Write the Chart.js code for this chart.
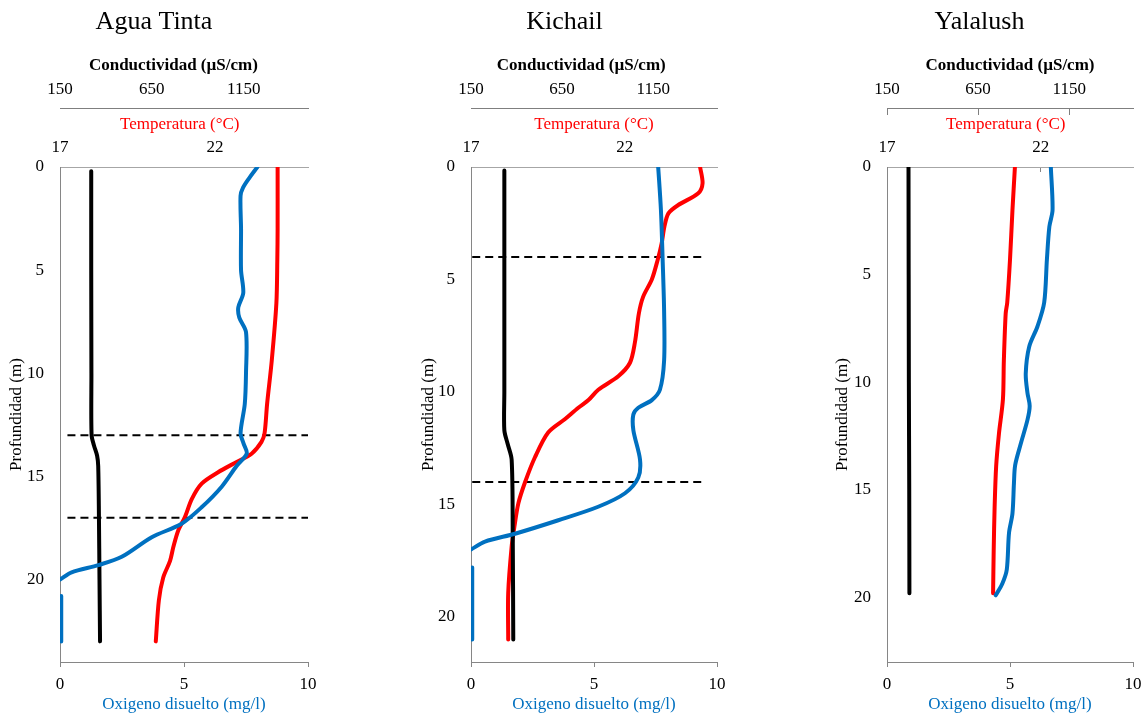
<!DOCTYPE html>
<html lang="es">
<head>
<meta charset="utf-8">
<title>Perfiles</title>
<script src="https://cdn.jsdelivr.net/npm/chart.js@4.4.1/dist/chart.umd.min.js"></script>
<style>
  html, body { margin: 0; padding: 0; background: #fff; overflow: hidden; }
  body { position: relative; width: 1147px; height: 715px; }
  canvas { position: absolute; top: 0; }
</style>
</head>
<body>
<canvas id="aguaTintaChart" width="318" height="715" style="left:0px"></canvas>
<canvas id="kichailChart" width="352" height="715" style="left:412px"></canvas>
<canvas id="yalalushChart" width="327" height="715" style="left:826px"></canvas>
<script>
// marcas de los ejes
const oxigenoTicks = [0, 5, 10];
const tempTicks = [17, 22];
const condTicks = [150, 650, 1150];
const profTicks = [0, 5, 10, 15, 20];

// Agua Tinta
const aguaO2Prof = [0, 0.5, 1.0, 1.4, 3, 5, 6.1, 6.8, 7.3, 8.0, 10, 11.5, 12.9, 13.4, 13.9, 14.5, 15.5, 16.5, 17.3, 17.95, 18.9, 19.3, 19.65, 20.0, 20.4, 20.8, 23];
const aguaO2 = [7.96, 7.65, 7.38, 7.28, 7.3, 7.3, 7.39, 7.19, 7.23, 7.5, 7.5, 7.45, 7.28, 7.4, 7.53, 7.12, 6.52, 5.71, 4.9, 3.7, 2.49, 1.55, 0.47, 0.0, null, 0.05, 0.05];
const aguaTempProf = [0, 3, 4.5, 6.6, 9.4, 11.5, 12.9, 13.33, 13.9, 14.3, 14.8, 15.35, 16.1, 16.97, 17.6, 18.4, 19.1, 19.9, 21.0, 23];
const aguaTemp = [24.02, 24.02, 24.01, 23.98, 23.83, 23.68, 23.6, 23.5, 23.18, 22.7, 22.1, 21.57, 21.25, 21.03, 20.82, 20.66, 20.55, 20.33, 20.19, 20.09];
const aguaCondProf = [0.2, 5, 10, 13, 13.5, 14, 14.5, 17, 20, 23];
const aguaCond = [320, 320, 321, 322, 335, 352, 358, 362, 365, 368];
const aguaLimites = [13, 17];
const aguaLimiteX = [0.3, 10];

// Kichail
const kichailO2Prof = [0, 1.9, 4.1, 6.4, 8.6, 9.9, 10.36, 10.7, 11.0, 11.7, 13.0, 13.8, 14.5, 15.1, 15.7, 16.3, 16.65, 17.0, 17.4, 17.8, 21.0];
const kichailO2 = [7.61, 7.72, 7.79, 7.85, 7.85, 7.68, 7.35, 6.8, 6.6, 6.6, 6.87, 6.8, 6.26, 5.17, 3.55, 1.79, 0.57, 0.0, null, 0.05, 0.05];
const kichailTempProf = [0, 0.73, 1.17, 1.69, 2.06, 2.65, 3.39, 4.13, 5.0, 5.76, 6.5, 7.8, 8.7, 9.3, 9.9, 10.36, 10.7, 11.2, 11.8, 12.9, 14.0, 14.95, 16.0, 16.9, 18.95, 21.0];
const kichailTemp = [24.45, 24.53, 24.39, 23.74, 23.42, 23.29, 23.2, 23.07, 22.88, 22.6, 22.46, 22.33, 22.17, 21.79, 21.14, 20.82, 20.49, 20.06, 19.51, 19.08, 18.76, 18.54, 18.41, 18.32, 18.21, 18.21];
const kichailCondProf = [0.15, 5, 10, 11.7, 12.3, 13.0, 16.3, 21];
const kichailCond = [333, 333, 333, 333, 351, 373, 379, 382];
const kichailLimites = [4, 14];
const kichailLimiteX = [0.05, 9.4];

// Yalalush
const yalalushO2Prof = [0, 2.0, 2.77, 4.3, 6.3, 7.4, 8.35, 9.6, 10.5, 11.1, 11.75, 12.85, 13.85, 14.7, 16.1, 17.0, 18.7, 19.35, 19.9];
const yalalushO2 = [6.66, 6.73, 6.6, 6.5, 6.39, 6.12, 5.78, 5.64, 5.71, 5.8, 5.71, 5.44, 5.21, 5.16, 5.1, 4.96, 4.87, 4.69, 4.42];
const yalalushTempProf = [0, 2.0, 4.3, 6.3, 6.8, 9.0, 10.8, 12.4, 13.9, 15.8, 17.8, 19.8];
const yalalushTemp = [21.16, 21.08, 21.0, 20.91, 20.86, 20.8, 20.77, 20.64, 20.55, 20.5, 20.47, 20.45];
const yalalushCondProf = [0, 10, 15, 19.8];
const yalalushCond = [268, 270, 272, 273];

const azul = '#0070C0';
const rojo = '#FF0000';
const ejeColor = '#868686';
Chart.defaults.font.family = "'Liberation Serif', 'Times New Roman', serif";

function puntos(valores, profundidades) {
    return valores.map((v, i) => ({ x: v, y: profundidades[i] }));
}

function serie(datos, color, eje) {
    return {
        data: datos,
        xAxisID: eje,
        yAxisID: 'y',
        showLine: true,
        borderColor: color,
        borderWidth: 4,
        pointRadius: 0,
        tension: 0.3,
        borderCapStyle: 'round',
        borderJoinStyle: 'round',
        fill: false
    };
}

function limite(prof, rango) {
    return {
        data: rango.map(x => ({ x: x, y: prof })),
        xAxisID: 'x',
        yAxisID: 'y',
        showLine: true,
        borderColor: '#000',
        borderWidth: 2,
        borderDash: [8, 5],
        pointRadius: 0
    };
}

function fijarTicks(lista) {
    return scale => { scale.ticks = lista.map(v => ({ value: v })); };
}

// altura fija del eje, sin el margen lateral que Chart.js añade para las etiquetas
function alturaEje(h) {
    return scale => {
        scale.height = h;
        scale.paddingLeft = 0;
        scale.paddingRight = 0;
    };
}

// espacios al final para correr el título un poco a la izquierda, como en el original
function corrido(texto, n) {
    return texto + '\u00a0'.repeat(n || 0);
}

const fuente = { size: 17 };

function crearPerfil(canvasId, p) {
    // orden: el primero se dibuja encima
    const datasets = [
        serie(puntos(p.o2, p.o2Prof), azul, 'x'),
        serie(puntos(p.cond, p.condProf), '#000', 'xc'),
        serie(puntos(p.temp, p.tempProf), rojo, 'xt')
    ];
    (p.limites || []).forEach(d => datasets.push(limite(d, p.limiteX)));

    // en Yalalush los ejes superiores tienen marcas hacia adentro
    const marca = p.marcas ? 7 : 0;

    new Chart(document.getElementById(canvasId), {
        type: 'scatter',
        data: { datasets },
        options: {
            responsive: false,
            animation: false,
            layout: { padding: { left: 0, right: p.padRight, top: 0, bottom: 0 } },
            plugins: {
                legend: { display: false },
                tooltip: { enabled: false },
                title: {
                    display: true,
                    text: p.titulo,
                    color: '#000',
                    font: { size: 26, weight: 'normal' },
                    padding: { top: 6.5, bottom: 6.3 }
                }
            },
            scales: {
                x: {
                    type: 'linear', position: 'bottom', min: 0, max: 10,
                    afterBuildTicks: fijarTicks(oxigenoTicks),
                    afterFit: alturaEje(53),
                    ticks: { color: '#000', font: fuente, padding: 7, autoSkip: false, maxRotation: 0, callback: v => String(v) },
                    grid: { display: true, drawOnChartArea: false, drawTicks: true, tickLength: 5, color: ejeColor },
                    border: { display: true, color: ejeColor, width: 1 },
                    title: { display: true, text: 'Oxigeno disuelto (mg/l)', color: azul, font: fuente, padding: { top: 0, bottom: 0 } }
                },
                xt: {
                    type: 'linear', position: 'top', min: 17, max: 25, weight: 1,
                    afterBuildTicks: fijarTicks(tempTicks),
                    afterFit: alturaEje(59),
                    ticks: { color: '#000', font: fuente, padding: 8.8 + (p.marcas ? 5 : 0), autoSkip: false, maxRotation: 0, callback: v => String(v) },
                    grid: { display: !!p.marcas, drawOnChartArea: false, drawTicks: !!p.marcas, tickLength: -5, color: ejeColor },
                    border: { display: true, color: '#a6a6a6', width: 1 },
                    title: { display: true, text: corrido('Temperatura (°C)', p.tempEsp), color: rojo, font: fuente, padding: { top: 6.8, bottom: 0 } }
                },
                xc: {
                    type: 'linear', position: 'top', min: 150, max: 1500, weight: 2,
                    afterBuildTicks: fijarTicks(condTicks),
                    afterFit: alturaEje(64),
                    ticks: { color: '#000', font: fuente, padding: 7.8 + marca, autoSkip: false, maxRotation: 0, callback: v => String(v) },
                    grid: { display: !!p.marcas, drawOnChartArea: false, drawTicks: !!p.marcas, tickLength: -marca, color: '#7f7f7f' },
                    border: { display: true, color: '#7f7f7f', width: 1 },
                    title: { display: true, text: corrido('Conductividad (µS/cm)', p.condEsp), color: '#000', font: { size: 17, weight: 'bold' }, padding: { top: 11.8, bottom: 0 } }
                },
                y: {
                    type: 'linear', position: 'left', reverse: true, min: 0, max: p.profMax,
                    afterBuildTicks: fijarTicks(profTicks),
                    afterFit: s => { s.width = p.ejeY; },
                    ticks: { color: '#000', font: fuente, padding: 16, autoSkip: false, callback: v => String(v) },
                    grid: { display: false, drawTicks: false },
                    border: { display: true, color: ejeColor, width: 1 },
                    title: { display: true, text: 'Profundidad (m)', color: '#000', font: fuente, padding: { top: 6, bottom: 0 } }
                }
            }
        }
    });
}

crearPerfil('aguaTintaChart', {
    titulo: 'Agua Tinta', profMax: 24, ejeY: 60, padRight: 10, condEsp: 5, tempEsp: 2,
    o2: aguaO2, o2Prof: aguaO2Prof, temp: aguaTemp, tempProf: aguaTempProf,
    cond: aguaCond, condProf: aguaCondProf, limites: aguaLimites, limiteX: aguaLimiteX
});
crearPerfil('kichailChart', {
    titulo: 'Kichail', profMax: 22, ejeY: 59, padRight: 47, condEsp: 6, tempEsp: 0,
    o2: kichailO2, o2Prof: kichailO2Prof, temp: kichailTemp, tempProf: kichailTempProf,
    cond: kichailCond, condProf: kichailCondProf, limites: kichailLimites, limiteX: kichailLimiteX
});
crearPerfil('yalalushChart', {
    titulo: 'Yalalush', profMax: 23, ejeY: 61, padRight: 20, condEsp: 0, tempEsp: 2, marcas: true,
    o2: yalalushO2, o2Prof: yalalushO2Prof, temp: yalalushTemp, tempProf: yalalushTempProf,
    cond: yalalushCond, condProf: yalalushCondProf
});
</script>
</body>
</html>
